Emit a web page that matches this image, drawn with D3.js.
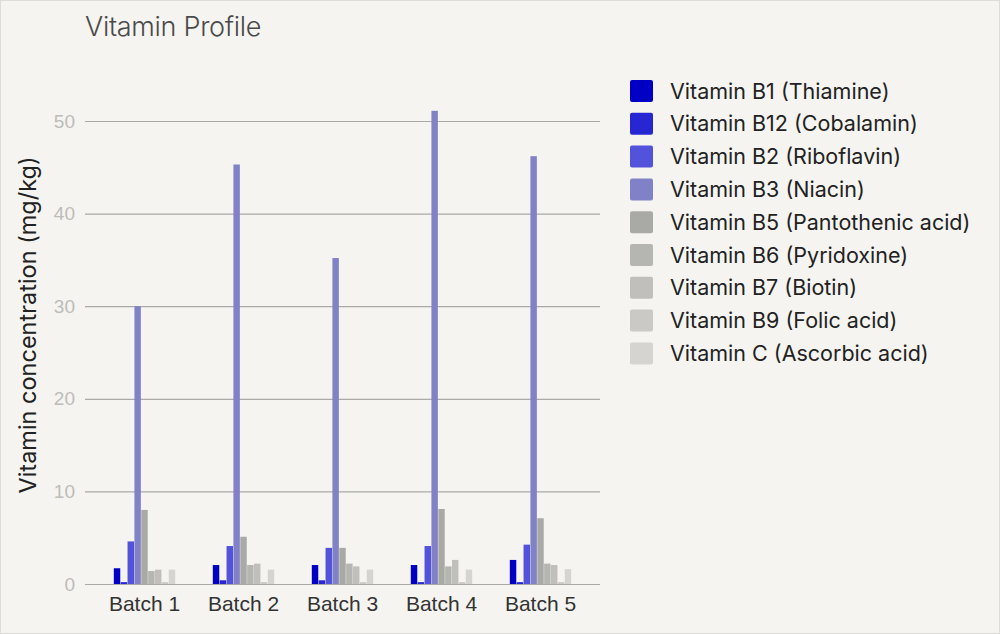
<!DOCTYPE html>
<html>
<head>
<meta charset="utf-8">
<style>
html, body { margin: 0; padding: 0; background: #f5f4f0; }
svg { display: block; font-family: Inter, "Noto Sans", sans-serif; }
.grid line { stroke: #aaa9a5; stroke-width: 1.2; }
.grid text { fill: #bdbcb8; font-size: 19px; }
.xaxis text { fill: #333; font-size: 21px; }
.legend text { fill: #222; font-size: 21.5px; }
</style>
<script src="https://cdn.jsdelivr.net/npm/d3@7"></script>
</head>
<body>
<script>
var batches = ["Batch 1", "Batch 2", "Batch 3", "Batch 4", "Batch 5"];

var vitamins = [
  "Vitamin B1 (Thiamine)",
  "Vitamin B12 (Cobalamin)",
  "Vitamin B2 (Riboflavin)",
  "Vitamin B3 (Niacin)",
  "Vitamin B5 (Pantothenic acid)",
  "Vitamin B6 (Pyridoxine)",
  "Vitamin B7 (Biotin)",
  "Vitamin B9 (Folic acid)",
  "Vitamin C (Ascorbic acid)"
];

var colors = ["#0000c4", "#2626d2", "#5252da", "#8181c8", "#a9a9a5",
              "#b5b5b1", "#c0bfbb", "#cac9c5", "#d5d4d0"];

// one row per vitamin, one value per batch (mg/kg)
var b1  = [1.7, 2.05, 2.05, 2.05, 2.6];
var b12 = [0.2, 0.4, 0.4, 0.2, 0.2];
var b2  = [4.6, 4.1, 3.9, 4.1, 4.25];
var b3  = [30.0, 45.3, 35.2, 51.1, 46.2];
var b5  = [8.0, 5.1, 3.9, 8.1, 7.1];
var b6  = [1.4, 2.05, 2.2, 1.9, 2.2];
var b7  = [1.55, 2.2, 1.9, 2.6, 2.05];
var b9  = [0.2, 0.2, 0.2, 0.2, 0.2];
var vc  = [1.55, 1.55, 1.55, 1.55, 1.6];

var values = [b1, b12, b2, b3, b5, b6, b7, b9, vc];

var yTicks = [0, 10, 20, 30, 40, 50];

var width = 1000,
    height = 634;

var svg = d3.select("body").append("svg")
  .attr("width", width)
  .attr("height", height);

// thin frame round the picture
svg.append("rect")
  .attr("x", 0.5).attr("y", 0.5)
  .attr("width", width - 1).attr("height", height - 1)
  .attr("fill", "#f5f4f0")
  .attr("stroke", "#dddcd8");

var x = d3.scaleBand()
  .domain(batches)
  .range([95, 590])
  .paddingInner(0.38)
  .paddingOuter(0.19);

var xInner = d3.scaleBand()
  .domain(vitamins)
  .range([0, x.bandwidth()])
  .paddingInner(0.06);

var y = d3.scaleLinear()
  .domain([0, 50])
  .range([584, 121]);

// gridlines + tick labels
var grid = svg.append("g")
  .attr("class", "grid")
  .attr("transform", "translate(85,0)")
  .call(d3.axisLeft(y).tickValues(yTicks).tickSize(-515).tickPadding(10).tickFormat(d3.format("d")));
grid.select(".domain").remove();

svg.append("text")
  .attr("x", 85)
  .attr("y", 36)
  .attr("fill", "#4a4a4a")
  .attr("font-size", "27px")
  .attr("font-weight", 300)
  .attr("letter-spacing", "-0.3px")
  .text("Vitamin Profile");

svg.append("text")
  .attr("transform", "translate(36,325) rotate(-90)")
  .attr("text-anchor", "middle")
  .attr("fill", "#222")
  .attr("font-size", "23.5px")
  .text("Vitamin concentration (mg/kg)");

// bars
var groups = svg.append("g").selectAll("g")
  .data(batches)
  .join("g")
  .attr("transform", function(d) { return "translate(" + x(d) + ",0)"; });

groups.selectAll("rect")
  .data(function(d, i) {
    return vitamins.map(function(v, j) { return { key: v, value: values[j][i], color: colors[j] }; });
  })
  .join("rect")
  .attr("x", function(d) { return xInner(d.key); })
  .attr("y", function(d) { return y(d.value); })
  .attr("width", xInner.bandwidth())
  .attr("height", function(d) { return y(0) - y(d.value); })
  .attr("fill", function(d) { return d.color; });

// batch labels
var xaxis = svg.append("g")
  .attr("class", "xaxis")
  .attr("transform", "translate(0,584)")
  .call(d3.axisBottom(x).tickSize(0).tickPadding(12));
xaxis.select(".domain").remove();

// legend
var legend = svg.append("g")
  .attr("class", "legend")
  .selectAll("g")
  .data(vitamins)
  .join("g")
  .attr("transform", function(d, i) { return "translate(630," + (80 + i * 32.8) + ")"; });

legend.append("rect")
  .attr("width", 23)
  .attr("height", 22)
  .attr("rx", 2)
  .attr("fill", function(d, i) { return colors[i]; });

legend.append("text")
  .attr("x", 40)
  .attr("y", 18.5)
  .text(function(d) { return d; });
</script>
</body>
</html>
